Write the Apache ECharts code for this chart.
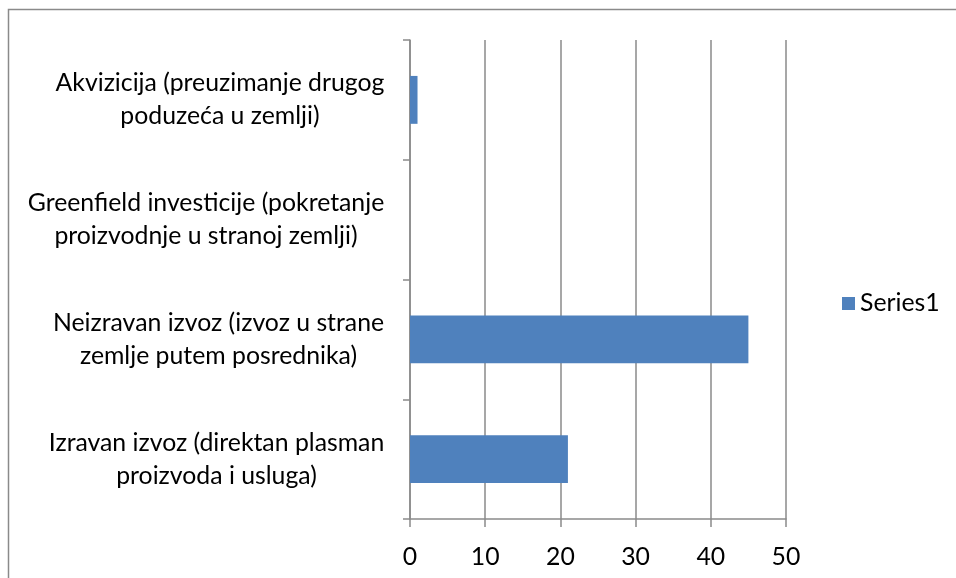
<!DOCTYPE html>
<html>
<head>
<meta charset="utf-8">
<script src="https://cdn.jsdelivr.net/npm/echarts@6/dist/echarts.min.js"></script>
<style>html,body{margin:0;padding:0;background:#fff;}#c{width:956px;height:578px;}</style>
</head>
<body>
<div id="c"></div>
<script>
var categories = [
  "Akvizicija (preuzimanje drugog\npoduzeća u zemlji)",
  "Greenfield investicije (pokretanje\nproizvodnje u stranoj zemlji)",
  "Neizravan izvoz (izvoz u strane\nzemlje putem posrednika)",
  "Izravan izvoz (direktan plasman\nproizvoda i usluga)"
];
var seriesName = "Series1";
var values = [1, 0, 45, 21];
var xTicks = [0, 10, 20, 30, 40, 50];

var FONT = 'Lato';
var FS = 24.8;
var cv = document.createElement('canvas').getContext('2d');
cv.font = FS + 'px ' + FONT;
var rich = {};
categories.forEach(function (c, i) {
  var w = 0;
  c.split('\n').forEach(function (l) { w = Math.max(w, cv.measureText(l).width); });
  rich['r' + i] = { width: Math.ceil(w) + 1, align: 'center', fontSize: FS, fontFamily: FONT, color: '#000', lineHeight: 33 };
});

var chart = echarts.init(document.getElementById('c'));
chart.setOption({
  animation: false,
  backgroundColor: '#fff',
  graphic: [{
    type: 'rect', shape: { x: 8.5, y: 9.5, width: 1200, height: 1200 },
    style: { fill: 'none', stroke: '#8a8a8a', lineWidth: 1.5 }, silent: true, z: -1
  }],
  legend: {
    data: [seriesName], left: 837, top: 286, itemWidth: 13, itemHeight: 13, itemGap: 5,
    icon: 'rect',
    textStyle: { fontSize: FS, fontFamily: FONT, color: '#000' }
  },
  grid: { left: 410, right: 170, top: 40, bottom: 59, containLabel: false },
  xAxis: {
    type: 'value', min: xTicks[0], max: xTicks[xTicks.length - 1], interval: 10,
    axisLine: { show: true, lineStyle: { color: '#8a8a8a', width: 1.5 } },
    axisTick: { show: true, length: 8, lineStyle: { color: '#8a8a8a', width: 1.5 } },
    splitLine: { show: true, lineStyle: { color: '#8a8a8a', width: 1.5 } },
    axisLabel: { fontSize: FS, fontFamily: FONT, color: '#000', margin: 26 }
  },
  yAxis: {
    type: 'category', data: categories, inverse: true,
    axisLine: { show: true, lineStyle: { color: '#8a8a8a', width: 1.5 } },
    axisTick: { show: true, length: 7, lineStyle: { color: '#8a8a8a', width: 1.5 } },
    axisLabel: {
      margin: 25,
      formatter: function (v, i) {
        return v.split('\n').map(function (l) { return '{r' + i + '|' + l + '}'; }).join('\n');
      },
      rich: rich
    }
  },
  series: [{
    name: seriesName, type: 'bar', data: values, barWidth: '40%',
    itemStyle: { color: '#4f81bd' }
  }]
});
</script>
</body>
</html>
